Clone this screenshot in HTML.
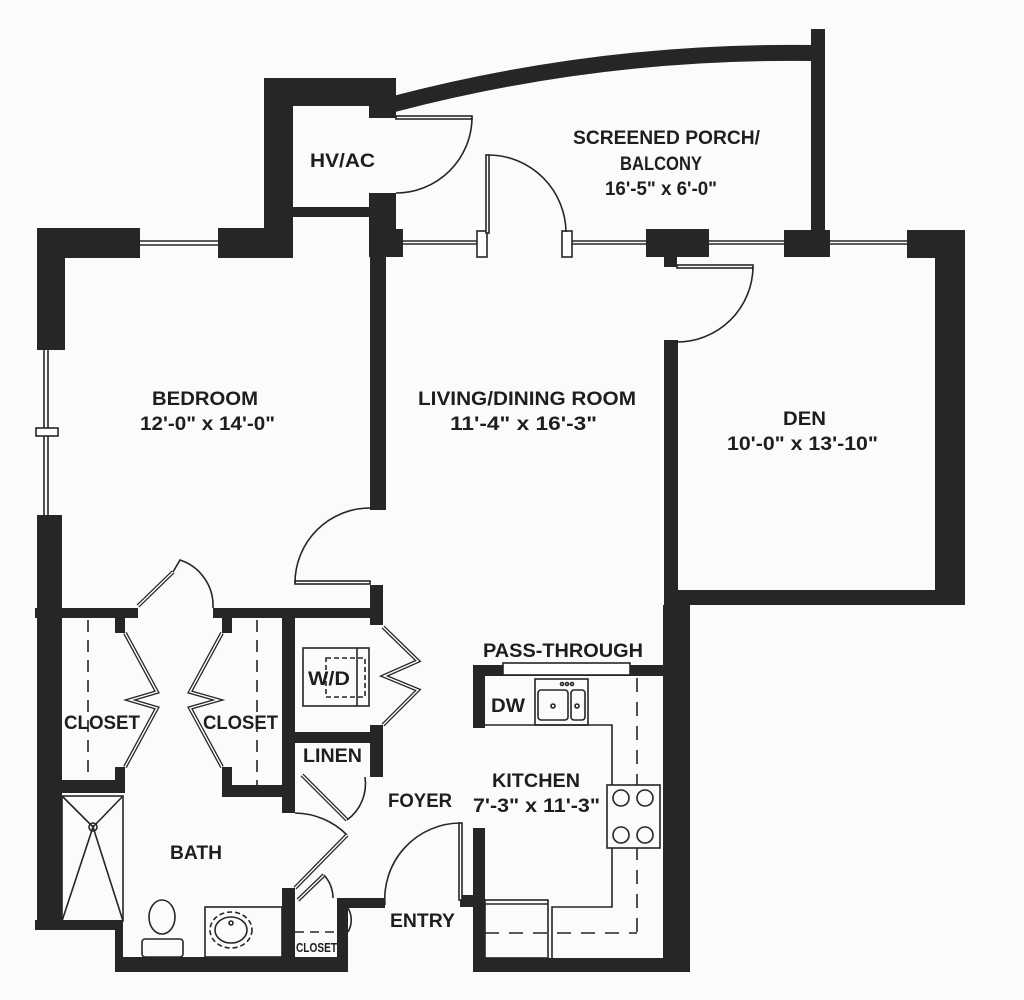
<!DOCTYPE html>
<html><head><meta charset="utf-8"><style>
html,body{margin:0;padding:0;background:#fbfbfb;}
svg{display:block}
text{font-family:"Liberation Sans",sans-serif;font-weight:bold;fill:#1e1e1e;text-anchor:start}
</style></head><body>
<svg width="1024" height="1000" viewBox="0 0 1024 1000" xmlns="http://www.w3.org/2000/svg">
<rect width="1024" height="1000" fill="#fbfbfb"/>
<g fill="#262626">
<!-- bedroom top-left -->
<rect x="37" y="228" width="103" height="30"/>
<rect x="37" y="228" width="28" height="122"/>
<rect x="37" y="515" width="25" height="415"/>
<rect x="218" y="228" width="73" height="30"/>
<!-- HVAC -->
<rect x="264" y="78" width="29" height="180"/>
<rect x="264" y="78" width="132" height="28"/>
<rect x="369" y="78" width="27" height="40"/>
<rect x="264" y="207" width="105" height="10"/>
<rect x="293" y="207" width="76" height="10"/>
<rect x="369" y="193" width="27" height="64"/>
<rect x="369" y="229" width="34" height="28"/>
<rect x="370" y="257" width="16" height="253"/>
<!-- porch right wall -->
<rect x="811" y="29" width="14" height="201"/>
<!-- window blocks -->
<rect x="646" y="229" width="63" height="28"/>
<rect x="664" y="257" width="13" height="10"/>
<rect x="784" y="230" width="46" height="27"/>
<rect x="907" y="230" width="58" height="28"/>
<!-- den -->
<rect x="935" y="230" width="30" height="375"/>
<rect x="664" y="340" width="14" height="265"/>
<rect x="664" y="590" width="301" height="15"/>
<rect x="663" y="605" width="27" height="367"/>
<!-- kitchen -->
<rect x="473" y="665" width="190" height="11"/>
<rect x="473" y="665" width="12" height="63"/>
<rect x="473" y="828" width="12" height="144"/>
<rect x="473" y="958" width="217" height="14"/>
<rect x="460" y="895" width="25" height="12"/>
<!-- closets row -->
<rect x="35" y="608" width="103" height="10"/>
<rect x="213" y="608" width="170" height="10"/>
<rect x="370" y="585" width="13" height="40"/>
<rect x="115" y="618" width="10" height="15"/>
<rect x="115" y="767" width="10" height="26"/>
<rect x="62" y="780" width="63" height="13"/>
<rect x="222" y="618" width="10" height="15"/>
<rect x="222" y="767" width="10" height="30"/>
<rect x="222" y="785" width="73" height="12"/>
<rect x="282" y="618" width="13" height="195"/>
<rect x="295" y="732" width="88" height="11"/>
<rect x="370" y="725" width="13" height="52"/>
<!-- bath -->
<rect x="35" y="920" width="88" height="10"/>
<rect x="115" y="922" width="8" height="50"/>
<rect x="115" y="957" width="233" height="15"/>
<rect x="282" y="888" width="13" height="84"/>
<rect x="337" y="898" width="11" height="74"/>
<rect x="337" y="898" width="48" height="10"/>
</g>
<!-- curved porch wall -->
<path d="M394,104 Q600,50 812,53" stroke="#262626" stroke-width="16" fill="none"/>
<g stroke="#262626" stroke-width="1.6" fill="none">
<!-- windows -->
<line x1="140" y1="241" x2="218" y2="241"/><line x1="140" y1="245" x2="218" y2="245"/>
<line x1="403" y1="241" x2="478" y2="241"/><line x1="403" y1="244" x2="478" y2="244"/>
<line x1="572" y1="241" x2="646" y2="241"/><line x1="572" y1="244" x2="646" y2="244"/>
<line x1="709" y1="241" x2="784" y2="241"/><line x1="709" y1="244" x2="784" y2="244"/>
<line x1="830" y1="241" x2="907" y2="241"/><line x1="830" y1="244" x2="907" y2="244"/>
<line x1="44" y1="350" x2="44" y2="515"/><line x1="48" y1="350" x2="48" y2="515"/>
<rect x="36" y="428" width="22" height="8" fill="#fff"/>
<rect x="477" y="231" width="10" height="26" fill="#fff"/>
<rect x="562" y="231" width="10" height="26" fill="#fff"/>
<!-- HVAC door -->
<rect x="396" y="116" width="76" height="3" fill="#fff"/>
<path d="M472,118 A76,76 0 0 1 396,193"/>
<!-- porch door -->
<rect x="486" y="155" width="3" height="78" fill="#fff"/>
<path d="M489,155 A78,78 0 0 1 566,232"/>
<!-- den door -->
<rect x="677" y="265" width="76" height="3" fill="#fff"/>
<path d="M753,267 A76,76 0 0 1 677,342"/>
<!-- bedroom door -->
<rect x="295" y="581" width="75" height="3" fill="#fff"/>
<path d="M295,583 A75,75 0 0 1 370,508"/>
<!-- bedroom closet double doors -->
<path d="M138,606 L173,572" stroke-width="4"/><path d="M138,606 L173,572" stroke="#fff" stroke-width="1.5"/>
<path d="M213,608 A48,48 0 0 0 180,560 L173,572"/>
<!-- closet 1 bifold -->
<path d="M125,633 L157,692 L130,700 L157,708 L125,767" stroke-width="4"/>
<path d="M125,633 L157,692 L130,700 L157,708 L125,767" stroke="#fff" stroke-width="1.4"/>
<!-- closet 2 bifold -->
<path d="M222,633 L190,692 L218,700 L190,708 L222,767" stroke-width="4"/>
<path d="M222,633 L190,692 L218,700 L190,708 L222,767" stroke="#fff" stroke-width="1.4"/>
<!-- laundry bifold -->
<path d="M383,627 L418,661 L384,676 L418,690 L383,725" stroke-width="4"/>
<path d="M383,627 L418,661 L384,676 L418,690 L383,725" stroke="#fff" stroke-width="1.4"/>
<!-- closet dashed -->
<line x1="88" y1="620" x2="88" y2="780" stroke-dasharray="12,8"/>
<line x1="257" y1="620" x2="257" y2="785" stroke-dasharray="12,8"/>
<!-- W/D -->
<rect x="303" y="648" width="66" height="58"/>
<rect x="326" y="658" width="39" height="39" stroke-dasharray="5,3"/>
<line x1="357" y1="648" x2="357" y2="706"/>
<!-- linen door -->
<path d="M302,775 L347,820" stroke-width="4"/><path d="M302,775 L347,820" stroke="#fff" stroke-width="1.4"/>
<path d="M347,820 A45,45 0 0 0 365,777"/>
<!-- bath door -->
<path d="M295,813 A75,75 0 0 1 347,835"/>
<path d="M347,835 L295,888" stroke-width="4"/><path d="M347,835 L295,888" stroke="#fff" stroke-width="1.4"/>
<!-- small closet door -->
<path d="M298,900 L324,875" stroke-width="4"/><path d="M298,900 L324,875" stroke="#fff" stroke-width="1.4"/>
<path d="M324,875 A35,35 0 0 1 333,898"/>
<line x1="295" y1="932" x2="337" y2="932" stroke-dasharray="9,6"/>
<path d="M348,908 A24,24 0 0 1 348,932"/>
<!-- entry door -->
<rect x="459" y="823" width="3" height="77" fill="#fff"/>
<path d="M385,905 A76,76 0 0 1 460,823"/>
<!-- shower -->
<rect x="62" y="796" width="61" height="125"/>
<path d="M62,796 L93,827 L123,796 M62,921 L93,827 L123,921"/>
<circle cx="93" cy="827" r="4"/>
<!-- toilet -->
<ellipse cx="162" cy="917" rx="13" ry="17"/>
<rect x="142" y="939" width="41" height="18" rx="3"/>
<!-- vanity -->
<rect x="205" y="907" width="77" height="50"/>
<ellipse cx="231" cy="930" rx="16" ry="13"/>
<ellipse cx="231" cy="930" rx="21" ry="18" stroke-dasharray="5,3"/>
<circle cx="231" cy="923" r="2"/>
<!-- kitchen -->
<rect x="503" y="663" width="127" height="12" fill="#fff"/>
<path d="M485,725 L612,725 L612,907 L552,907 L552,958"/>
<rect x="485" y="900" width="63" height="58"/>
<line x1="485" y1="904" x2="548" y2="904"/>
<line x1="637" y1="678" x2="637" y2="933" stroke-dasharray="14,10"/>
<line x1="485" y1="933" x2="637" y2="933" stroke-dasharray="14,10"/>
<rect x="535" y="679" width="53" height="46"/>
<rect x="538" y="690" width="30" height="30" rx="3"/>
<rect x="571" y="690" width="14" height="30" rx="3"/>
<circle cx="553" cy="706" r="2"/><circle cx="577" cy="706" r="2"/>
<circle cx="562" cy="684" r="1.5"/><circle cx="567" cy="684" r="1.5"/><circle cx="572" cy="684" r="1.5"/>
<rect x="607" y="785" width="53" height="63" fill="#fbfbfb"/>
<circle cx="621" cy="798" r="8"/><circle cx="645" cy="798" r="8"/>
<circle cx="621" cy="835" r="8"/><circle cx="645" cy="835" r="8"/>
</g>
<g font-size="19">
<text x="573" y="144" textLength="187" lengthAdjust="spacingAndGlyphs">SCREENED PORCH/</text>
<text x="620" y="170" textLength="82" lengthAdjust="spacingAndGlyphs">BALCONY</text>
<text x="605" y="195" textLength="112" lengthAdjust="spacingAndGlyphs">16'-5" x 6'-0"</text>
<text x="310" y="167" textLength="65" lengthAdjust="spacingAndGlyphs">HV/AC</text>
<text x="152" y="405" textLength="106" lengthAdjust="spacingAndGlyphs">BEDROOM</text>
<text x="140" y="430" textLength="135" lengthAdjust="spacingAndGlyphs">12'-0" x 14'-0"</text>
<text x="418" y="405" textLength="218" lengthAdjust="spacingAndGlyphs">LIVING/DINING ROOM</text>
<text x="450" y="430" textLength="147" lengthAdjust="spacingAndGlyphs">11'-4" x 16'-3"</text>
<text x="783" y="425" textLength="43" lengthAdjust="spacingAndGlyphs">DEN</text>
<text x="727" y="450" textLength="151" lengthAdjust="spacingAndGlyphs">10'-0" x 13'-10"</text>
<text x="483" y="657" textLength="160" lengthAdjust="spacingAndGlyphs">PASS-THROUGH</text>
<text x="491" y="712" textLength="34" lengthAdjust="spacingAndGlyphs">DW</text>
<text x="492" y="787" textLength="88" lengthAdjust="spacingAndGlyphs">KITCHEN</text>
<text x="473" y="812" textLength="127" lengthAdjust="spacingAndGlyphs">7'-3" x 11'-3"</text>
<text x="388" y="807" textLength="64" lengthAdjust="spacingAndGlyphs">FOYER</text>
<text x="170" y="859" textLength="52" lengthAdjust="spacingAndGlyphs">BATH</text>
<text x="390" y="927" textLength="65" lengthAdjust="spacingAndGlyphs">ENTRY</text>
<text x="64" y="729" textLength="76" lengthAdjust="spacingAndGlyphs">CLOSET</text>
<text x="203" y="729" textLength="75" lengthAdjust="spacingAndGlyphs">CLOSET</text>
<text x="308" y="685" textLength="42" lengthAdjust="spacingAndGlyphs">W/D</text>
<text x="303" y="762" textLength="59" lengthAdjust="spacingAndGlyphs">LINEN</text>
</g>
<text x="296" y="952" font-size="13" textLength="41" lengthAdjust="spacingAndGlyphs">CLOSET</text>
</svg>
</body></html>
